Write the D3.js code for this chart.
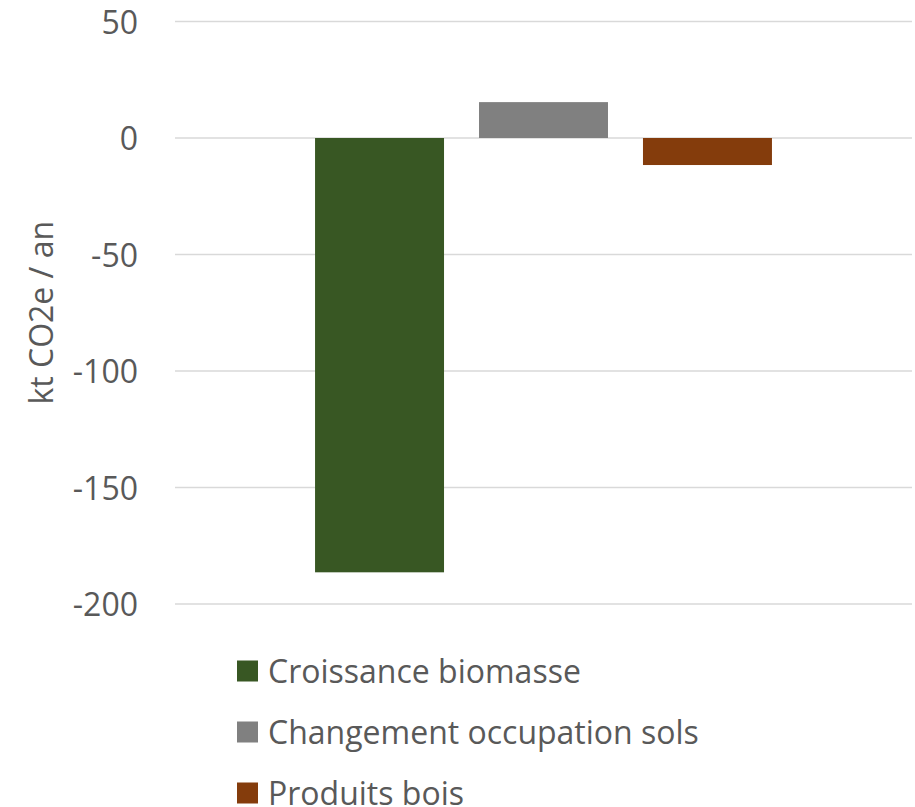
<!DOCTYPE html>
<html>
<head>
<meta charset="utf-8">
<script src="https://cdn.jsdelivr.net/npm/d3@7"></script>
<style>
  html, body { margin: 0; padding: 0; background: #fff; }
  svg { display: block; font-family: "Open Sans", sans-serif; }
</style>
</head>
<body>
<svg id="chart" width="915" height="807"></svg>
<script>
// Emissions / removals by source, kt CO2e per year
const categories = ["Croissance biomasse", "Changement occupation sols", "Produits bois"];
const values = [-186.4, 15.4, -11.6];
const colors = ["#385723", "#808080", "#843C0C"];
const yTicks = [-200, -150, -100, -50, 0, 50];
const yTitle = "kt CO2e / an";

const svg = d3.select("#chart");
const textColor = "#595959";

const plot = { left: 175, right: 912, top: 21.5, bottom: 604 };

const y = d3.scaleLinear().domain([-200, 50]).range([plot.bottom, plot.top]);

// single category holding the three series side by side
const outer = d3.scaleBand().domain(["g"]).range([plot.left, plot.right])
  .paddingInner(0.2346).paddingOuter(0.2346);
const x = d3.scaleBand().domain(categories)
  .range([outer("g"), outer("g") + outer.bandwidth()])
  .paddingInner(0.2134).paddingOuter(0);

// gridlines
svg.append("g").selectAll("line").data(yTicks).join("line")
  .attr("x1", plot.left).attr("x2", plot.right)
  .attr("y1", d => y(d)).attr("y2", d => y(d))
  .attr("stroke", "#d9d9d9").attr("stroke-width", 1.5);

// y axis labels (plain hyphen for negatives)
const yAxis = d3.axisLeft(y).tickValues(yTicks).tickSize(0).tickPadding(0)
  .tickFormat(d => String(d));
const ax = svg.append("g").attr("transform", "translate(138,0)").call(yAxis);
ax.select(".domain").remove();
ax.selectAll("text")
  .attr("font-family", "Open Sans")
  .attr("font-size", 32)
  .attr("fill", textColor)
  .attr("dy", "0.36em");

// bars
svg.append("g").selectAll("rect").data(categories).join("rect")
  .attr("x", d => x(d))
  .attr("width", x.bandwidth())
  .attr("y", (d, i) => y(Math.max(0, values[i])))
  .attr("height", (d, i) => Math.abs(y(values[i]) - y(0)))
  .attr("fill", (d, i) => colors[i]);

// y axis title
svg.append("text")
  .attr("transform", `translate(53,${(plot.top + plot.bottom) / 2}) rotate(-90)`)
  .attr("text-anchor", "middle")
  .attr("font-size", 32)
  .attr("fill", textColor)
  .text(yTitle);

// legend
const legend = svg.append("g").selectAll("g").data(categories).join("g")
  .attr("transform", (d, i) => `translate(237,${671 + i * 61})`);
legend.append("rect")
  .attr("x", 0).attr("y", -10.5).attr("width", 21).attr("height", 21)
  .attr("fill", (d, i) => colors[i]);
legend.append("text")
  .attr("x", 31).attr("y", 11.5)
  .attr("font-size", 32)
  .attr("fill", textColor)
  .text(d => d);
</script>
</body>
</html>
